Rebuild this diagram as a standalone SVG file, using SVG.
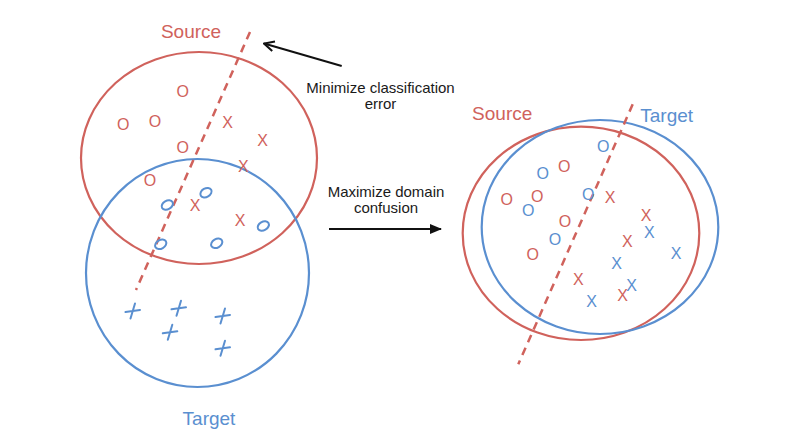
<svg xmlns="http://www.w3.org/2000/svg" width="789" height="438" viewBox="0 0 789 438">
<defs>
<style>
.bg{fill:#ffffff}
.rs{fill:none;stroke:#d0625c;stroke-width:2.2}
.bs{fill:none;stroke:#5a8fd0;stroke-width:2.2}
.dash{fill:none;stroke:#d0625c;stroke-width:2.5;stroke-dasharray:8 6}
.bo{fill:none;stroke:#5a8fd0;stroke-width:2}
.plus{fill:none;stroke:#5a8fd0;stroke-width:2;stroke-linecap:round}
.lbl{font-family:"Liberation Sans",Arial,sans-serif;font-size:19px;text-anchor:middle}
.txt{font-family:"Liberation Sans",Arial,sans-serif;font-size:15px;text-anchor:middle;fill:#1a1a1a}
.m{font-family:"Liberation Sans",Arial,sans-serif;font-size:16px;text-anchor:middle}
.r{fill:#d0625c}
.b{fill:#5a8fd0}
.arr{fill:none;stroke:#111;stroke-width:2}
</style>
<marker id="openhead" viewBox="0 0 12 12" refX="11" refY="6" markerWidth="12" markerHeight="12" markerUnits="userSpaceOnUse" orient="auto">
<path d="M1,1 L11,6 L1,11" fill="none" stroke="#111" stroke-width="2"/>
</marker>
<marker id="solidhead" viewBox="0 0 12 10" refX="11" refY="5" markerWidth="12" markerHeight="10" markerUnits="userSpaceOnUse" orient="auto">
<path d="M0,0 L12,5 L0,10 Z" fill="#111"/>
</marker>
</defs>
<rect class="bg" x="0" y="0" width="789" height="438"/>

<g id="left-source">
<ellipse class="rs" cx="199" cy="158" rx="118" ry="106"/>
<text class="lbl r" x="191" y="38">Source</text>
</g>
<g id="left-target">
<ellipse class="bs" cx="197.5" cy="273" rx="111.5" ry="114"/>
<text class="lbl b" x="209" y="425">Target</text>
</g>
<g id="left-boundary">
<line class="dash" x1="250" y1="32" x2="136" y2="290"/>
</g>
<g id="left-source-points">
<text class="m r" x="182.7" y="97.4">O</text>
<text class="m r" x="123.3" y="130">O</text>
<text class="m r" x="155" y="126.7">O</text>
<text class="m r" x="182.7" y="153">O</text>
<text class="m r" x="150" y="185.7">O</text>
<text class="m r" x="227.7" y="128.4">X</text>
<text class="m r" x="262.7" y="145.7">X</text>
<text class="m r" x="243.3" y="172.4">X</text>
<text class="m r" x="195" y="210.7">X</text>
<text class="m r" x="240" y="225.7">X</text>
</g>
<g id="left-target-points">
<ellipse class="bo" cx="206" cy="192.7" rx="6" ry="4.3" transform="rotate(-30 206 192.7)"/>
<ellipse class="bo" cx="167.3" cy="205" rx="6" ry="4.3" transform="rotate(-30 167.3 205)"/>
<ellipse class="bo" cx="263.3" cy="226" rx="6" ry="4.3" transform="rotate(-30 263.3 226)"/>
<ellipse class="bo" cx="160.7" cy="244.3" rx="6" ry="4.3" transform="rotate(-30 160.7 244.3)"/>
<ellipse class="bo" cx="216.7" cy="243.3" rx="6" ry="4.3" transform="rotate(-30 216.7 243.3)"/>
<path class="plus" d="M125.5,312 L140,310 M135,303.5 L130.5,318.5"/>
<path class="plus" d="M171.5,309.3 L186,307.3 M181,300.8 L176.5,315.8"/>
<path class="plus" d="M215.5,317 L230,315 M225,308.5 L220.5,323.5"/>
<path class="plus" d="M162.8,333.3 L177.3,331.3 M172.3,324.8 L167.8,339.8"/>
<path class="plus" d="M215.5,349.3 L230,347.3 M225,340.8 L220.5,355.8"/>
</g>

<g id="connectors">
<line class="arr" x1="341.7" y1="66" x2="264" y2="43.5" marker-end="url(#openhead)"/>
<line class="arr" x1="329" y1="229" x2="441" y2="229" marker-end="url(#solidhead)"/>
</g>
<g id="label-minimize">
<text class="txt" x="380.5" y="92.5">Minimize classification</text>
<text class="txt" x="380.5" y="109">error</text>
</g>
<g id="label-maximize">
<text class="txt" x="386" y="196.5">Maximize domain</text>
<text class="txt" x="386" y="213">confusion</text>
</g>

<g id="right-source">
<ellipse class="rs" cx="581" cy="233.3" rx="118.3" ry="106.7"/>
<text class="lbl r" x="502.2" y="120">Source</text>
</g>
<g id="right-target">
<ellipse class="bs" cx="600" cy="227" rx="118.3" ry="107"/>
<text class="lbl b" x="666.7" y="121.7">Target</text>
</g>
<g id="right-boundary">
<line class="dash" x1="632.7" y1="104.3" x2="518.3" y2="364.3"/>
</g>
<g id="right-points">
<text class="m b" x="603.3" y="152.4">O</text>
<text class="m b" x="542.7" y="179">O</text>
<text class="m b" x="528.3" y="215.7">O</text>
<text class="m b" x="588.3" y="200">O</text>
<text class="m b" x="555" y="244.7">O</text>
<text class="m r" x="564.3" y="172.4">O</text>
<text class="m r" x="506.7" y="204.7">O</text>
<text class="m r" x="537.3" y="202.4">O</text>
<text class="m r" x="565" y="227.4">O</text>
<text class="m r" x="532.7" y="260">O</text>
<text class="m r" x="610" y="203.4">X</text>
<text class="m r" x="646" y="220.7">X</text>
<text class="m r" x="627.3" y="246.7">X</text>
<text class="m r" x="578.3" y="284.7">X</text>
<text class="m r" x="622.7" y="300.7">X</text>
<text class="m b" x="649.3" y="238">X</text>
<text class="m b" x="676" y="259">X</text>
<text class="m b" x="616.7" y="269">X</text>
<text class="m b" x="631.7" y="291.4">X</text>
<text class="m b" x="591.7" y="306.7">X</text>
</g>
</svg>
